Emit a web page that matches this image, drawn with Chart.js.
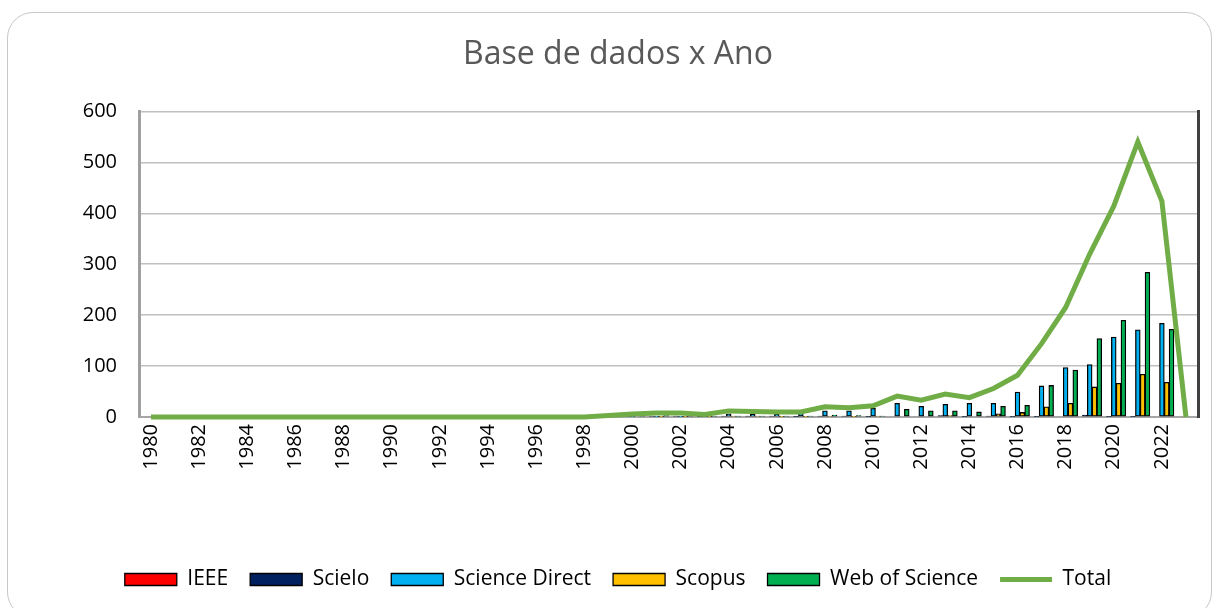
<!DOCTYPE html>
<html>
<head>
<meta charset="utf-8">
<script src="https://cdn.jsdelivr.net/npm/chart.js@4"></script>
<style>
  html, body { margin: 0; padding: 0; background: #fff; }
  #frame { position: absolute; left: 7px; top: 12px; width: 1205px; height: 606px; border: 1px solid #c8c8c8; border-radius: 26px; box-sizing: border-box; }
  #wrap { position: absolute; left: 0; top: 0; }
</style>
</head>
<body>
<div id="frame"></div>
<div id="wrap"><canvas id="myChart" width="1218" height="608"></canvas></div>
<script>
var years = ["1980","1981","1982","1983","1984","1985","1986","1987","1988","1989",
  "1990","1991","1992","1993","1994","1995","1996","1997","1998","1999",
  "2000","2001","2002","2003","2004","2005","2006","2007","2008","2009",
  "2010","2011","2012","2013","2014","2015","2016","2017","2018","2019",
  "2020","2021","2022","2023"];

// 1980-1998 are all zero
var ieee = [0,0,0,0,0,0,0,0,0,0, 0,0,0,0,0,0,0,0,0,0,
  0,0,0,0,0,0,0,0,0,0, 0,0,0,0,0,0,0,0,0,0, 0,0,0,0];
var scielo = [0,0,0,0,0,0,0,0,0,0, 0,0,0,0,0,0,0,0,0,1,
  2,2,2,1,2,2,2,1,2,2, 1,0,0,3,1,2,1,1,0,4, 1,1,0,0];
var scienceDirect = [0,0,0,0,0,0,0,0,0,0, 0,0,0,0,0,0,0,0,0,0,
  1,1,1,1,6,5,5,8,12,12, 17,27,21,25,27,27,49,61,97,103, 157,171,184,0];
var scopus = [0,0,0,0,0,0,0,0,0,0, 0,0,0,0,0,0,0,0,0,0,
  0,1,1,1,2,2,1,1,2,1, 2,0,0,3,0,6,9,20,27,59, 66,84,68,0];
var webOfScience = [0,0,0,0,0,0,0,0,0,0, 0,0,0,0,0,0,0,0,0,1,
  2,3,3,2,2,2,2,2,4,3, 2,15,12,12,10,21,23,62,92,154, 190,284,172,0];
var total = [0,0,0,0,0,0,0,0,0,0, 0,0,0,0,0,0,0,0,0,3,
  6,8,8,5,12,11,10,10,20,18, 22,41,33,45,38,56,82,144,215,320, 414,540,424,0];

var fontName = "'Open Sans', 'DejaVu Sans', sans-serif";

function barSet(label, values, color) {
  return {
    label: label,
    data: values,
    backgroundColor: color,
    borderColor: "#000000",
    borderWidth: 1.3,
    borderSkipped: false,
    categoryPercentage: 1.0,
    barPercentage: 1.0,
    pointStyle: "rect",
    order: 1
  };
}

new Chart("myChart", {
  type: "bar",
  data: {
    labels: years,
    datasets: [
      barSet("IEEE", ieee, "#ff0000"),
      barSet("Scielo", scielo, "#002060"),
      barSet("Science Direct", scienceDirect, "#00b0f0"),
      barSet("Scopus", scopus, "#ffc000"),
      barSet("Web of Science", webOfScience, "#00b050"),
      {
        type: "line",
        label: "Total",
        data: total,
        borderColor: "#70ad47",
        backgroundColor: "#70ad47",
        borderWidth: 5,
        pointRadius: 0,
        pointBorderWidth: 5,
        pointBorderColor: "#70ad47",
        pointStyle: "line",
        tension: 0,
        clip: false,
        order: 0
      }
    ]
  },
  options: {
    responsive: false,
    animation: false,
    layout: { padding: { top: 12, left: 18, right: 0, bottom: 8 } },
    plugins: {
      title: {
        display: true,
        text: "Base de dados x Ano",
        color: "#595959",
        font: { family: fontName, size: 32, weight: "normal" },
        padding: { top: 24, bottom: 37 }
      },
      legend: {
        position: "bottom",
        labels: {
          usePointStyle: true,
          pointStyleWidth: 52,
          boxHeight: 12,
          padding: 22,
          color: "#000000",
          font: { family: fontName, size: 21 },
          sort: function (a, b) { return a.datasetIndex - b.datasetIndex; }
        }
      },
      tooltip: { enabled: false }
    },
    scales: {
      x: {
        grid: { display: false, drawTicks: false },
        border: { color: "#a6a6a6", width: 2 },
        ticks: {
          autoSkip: false,
          minRotation: 90,
          maxRotation: 90,
          padding: 7,
          color: "#000000",
          font: { family: fontName, size: 20 },
          callback: function (v, i) { return i % 2 === 0 ? this.getLabelForValue(v) : ""; }
        },
        afterFit: function (s) { s.height = 130; }
      },
      y: {
        min: 0,
        max: 600,
        ticks: { stepSize: 100, padding: 22, color: "#000000", font: { family: fontName, size: 20 } },
        grid: { color: "#c0c0c0", lineWidth: 1.5, drawTicks: false },
        border: { color: "#a0a0a0", width: 3 },
        afterFit: function (s) { s.width = 121; }
      },
      y2: {
        position: "right",
        min: 0,
        max: 600,
        ticks: { display: false },
        grid: { display: false, drawTicks: false },
        border: { color: "#404040", width: 3 },
        afterFit: function (s) { s.width = 20; }
      }
    }
  }
});
</script>
</body>
</html>
